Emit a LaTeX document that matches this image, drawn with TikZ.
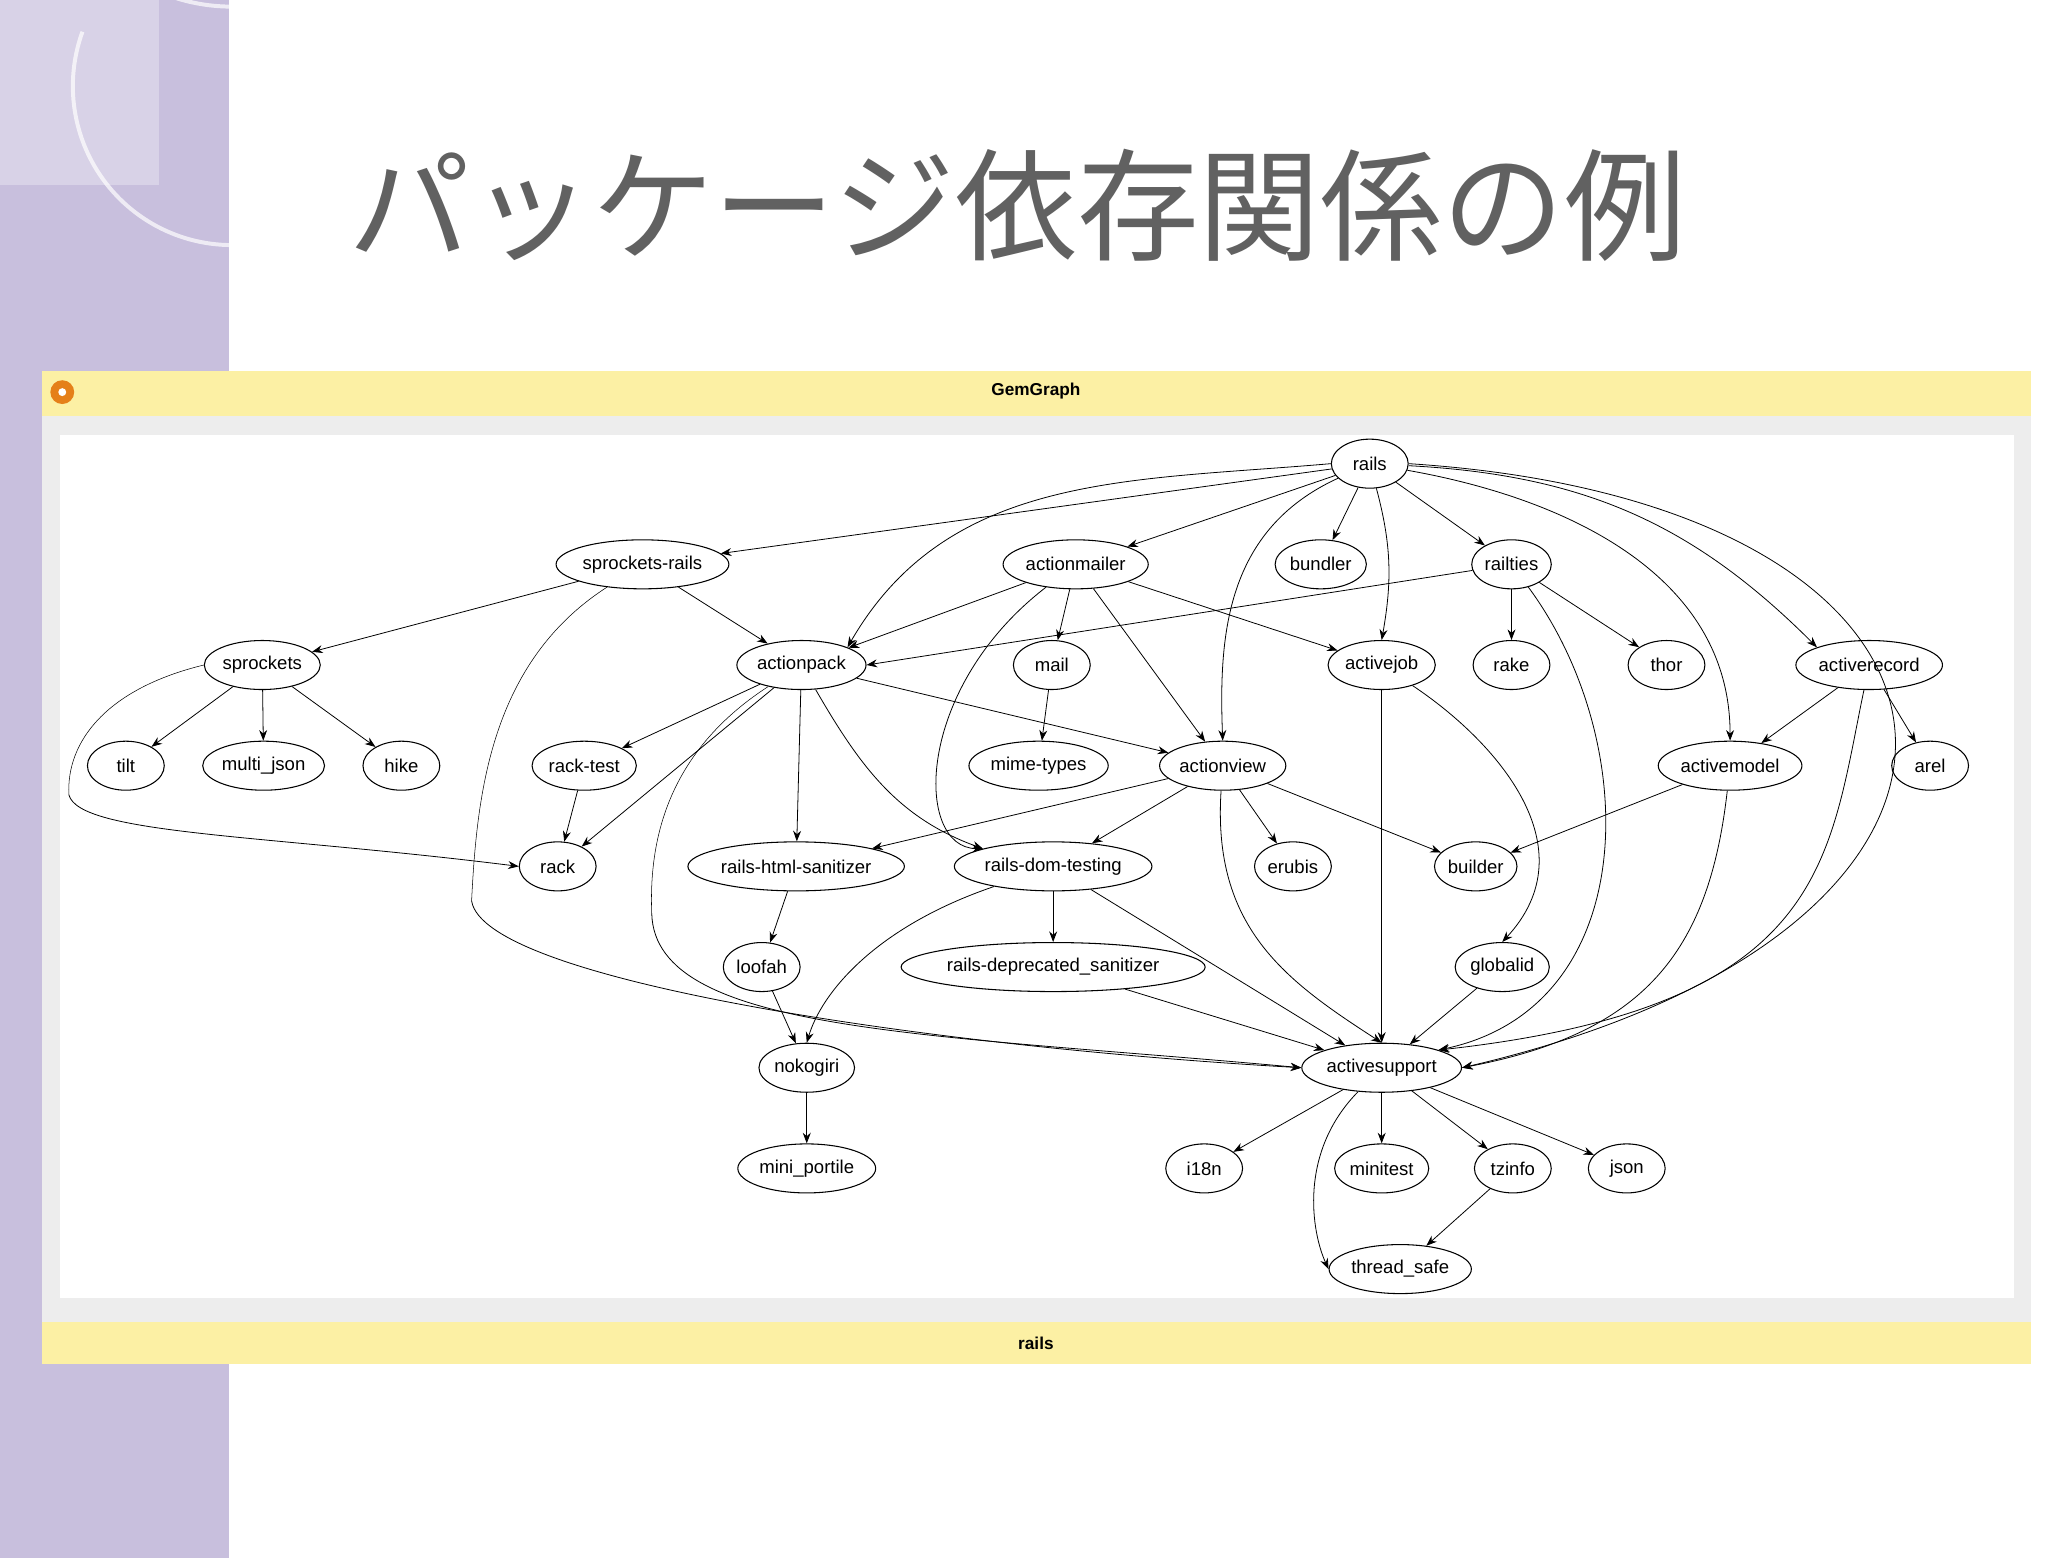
\documentclass[tikz,border=0pt]{standalone}
\usepackage{fontspec}
\setmainfont{Liberation Sans}
\newfontfamily\cjk{Noto Sans CJK JP}
\usetikzlibrary{shapes.geometric,arrows.meta}
\definecolor{side}{HTML}{C8BFDD}
\definecolor{bar}{HTML}{FCF0A4}
\begin{document}
\begin{tikzpicture}[x=1pt,y=-1pt,
 gn/.style={ellipse,draw,line width=0.8pt,inner xsep=1pt,inner ysep=0pt,minimum height=37pt,minimum width=58pt,font=\fontsize{14}{14}\selectfont},
 ed/.style={-{Stealth[length=8pt,width=6pt]},line width=0.6pt}]
\useasboundingbox (0,0) rectangle (1546,1176);
\fill[white] (0,0) rectangle (1546,1176);
\fill[side] (0,0) rectangle (173,1176);
\draw[white,line width=3pt,opacity=0.7] (175,5) arc (90:250:140);
\draw[white,line width=3pt,opacity=0.7] (175,185) arc (90:200:120);
\fill[white,opacity=0.3] (0,0) rectangle (120,140);
\node[text=black!62,font=\cjk\fontsize{92}{92}\selectfont] (title) at (768,155) {パッケージ依存関係の例};
% window
\fill[black!7] (32,280) rectangle (1533,1030);
\fill[white] (45,328) rectangle (1520,980);
\fill[bar] (32,280) rectangle (1533,314);
\fill[bar] (32,998) rectangle (1533,1030);
\fill[orange!60!brown] (47,296) circle (9);
\fill[white] (47,296) circle (3);
\node[font=\bfseries\fontsize{13}{13}\selectfont] (wt) at (782,295) {GemGraph};
\node[font=\bfseries\fontsize{13}{13}\selectfont] (wb) at (782,1014) {rails};
% nodes
\node[gn] (rails) at (1034,350) {rails};
\node[gn] (sr) at (485,426) {sprockets-rails};
\node[gn] (am) at (812,426) {actionmailer};
\node[gn] (bundler) at (997,426) {bundler};
\node[gn] (railties) at (1141,426) {railties};
\node[gn] (spr) at (198,502) {sprockets};
\node[gn] (ap) at (605,502) {actionpack};
\node[gn] (mail) at (794,502) {mail};
\node[gn] (aj) at (1043,502) {activejob};
\node[gn] (rake) at (1141,502) {rake};
\node[gn] (thor) at (1258,502) {thor};
\node[gn] (ar) at (1411,502) {activerecord};
\node[gn] (tilt) at (95,578) {tilt};
\node[gn] (mj) at (199,578) {multi\_json};
\node[gn] (hike) at (303,578) {hike};
\node[gn] (rt) at (441,578) {rack-test};
\node[gn] (mt) at (784,578) {mime-types};
\node[gn] (av) at (923,578) {actionview};
\node[gn] (amod) at (1306,578) {activemodel};
\node[gn] (arel) at (1457,578) {arel};
\node[gn] (rack) at (421,654) {rack};
\node[gn] (rhs) at (601,654) {rails-html-sanitizer};
\node[gn] (rdt) at (795,654) {rails-dom-testing};
\node[gn] (erubis) at (976,654) {erubis};
\node[gn] (builder) at (1114,654) {builder};
\node[gn] (loofah) at (575,730) {loofah};
\node[gn] (rds) at (795,730) {rails-deprecated\_sanitizer};
\node[gn] (gid) at (1134,730) {globalid};
\node[gn] (noko) at (609,806) {nokogiri};
\node[gn] (as) at (1043,806) {activesupport};
\node[gn] (mp) at (609,882) {mini\_portile};
\node[gn] (i18n) at (909,882) {i18n};
\node[gn] (mini) at (1043,882) {minitest};
\node[gn] (tz) at (1142,882) {tzinfo};
\node[gn] (json) at (1228,882) {json};
\node[gn] (ts) at (1057,958) {thread\_safe};
\coordinate (k1) at (356,680);
\coordinate (k2) at (492,690);
\coordinate (k3) at (52,600);
% edges
\draw[ed] (rails) -- (sr);
\draw[ed] (rails.west) to[out=185,in=60] (ap.north east);
\draw[ed] (rails) -- (am);
\draw[ed] (rails) -- (bundler);
\draw[ed] (rails) -- (railties);
\draw[ed] (rails) to[out=-75,in=80] (aj.north);
\draw[ed] (rails) .. controls (925,400) and (920,480) .. (av.north);
\draw[ed] (rails) to[out=-10,in=90] (amod.north);
\draw[ed] (rails) to[out=-3,in=135] (ar.north west);
\draw[ed] (rails.east) .. controls (1530,380) and (1560,700) .. (as.east);
\draw[ed] (sr) -- (spr);
\draw[ed] (sr) -- (ap);
\draw (sr) .. controls (370,500) and (360,600) .. (k1);
\draw[ed] (k1) .. controls (365,740) and (700,790) .. (as.west);
\draw[ed] (am) -- (ap);
\draw[ed] (am) -- (mail);
\draw[ed] (am) -- (av);
\draw[ed] (am) -- (aj);
\draw[ed] (am) .. controls (690,520) and (690,640) .. (rdt.north west);
\draw[ed] (railties) -- (ap.east);
\draw[ed] (railties) -- (rake);
\draw[ed] (railties) -- (thor);
\draw[ed] (railties) .. controls (1240,560) and (1240,760) .. (as.north east);
\draw[ed] (spr) -- (tilt);
\draw[ed] (spr) -- (mj);
\draw[ed] (spr) -- (hike);
\draw (spr.west) .. controls (80,520) and (50,560) .. (k3);
\draw[ed] (k3) .. controls (60,630) and (200,630) .. (rack.west);
\draw[ed] (ap) -- (rt);
\draw[ed] (ap) -- (rack);
\draw[ed] (ap) -- (rhs);
\draw[ed] (ap) to[out=-60,in=160] (rdt.north west);
\draw[ed] (ap) -- (av);
\draw (ap) .. controls (500,570) and (490,640) .. (k2);
\draw[ed] (k2) .. controls (495,780) and (700,780) .. (as.west);
\draw[ed] (mail) -- (mt);
\draw[ed] (aj) -- (as);
\draw[ed] (aj) .. controls (1130,560) and (1200,640) .. (gid.north);
\draw[ed] (ar) -- (amod);
\draw[ed] (ar) -- (arel);
\draw[ed] (ar) .. controls (1380,650) and (1380,760) .. (as.north east);
\draw[ed] (rt) -- (rack);
\draw[ed] (av) -- (rhs);
\draw[ed] (av) -- (rdt);
\draw[ed] (av) -- (erubis);
\draw[ed] (av) -- (builder);
\draw[ed] (av) .. controls (915,700) and (970,740) .. (as.north);
\draw[ed] (amod) -- (builder);
\draw[ed] (amod) .. controls (1290,720) and (1240,780) .. (as.east);
\draw[ed] (rhs) -- (loofah);
\draw[ed] (rdt) -- (rds);
\draw[ed] (rdt) .. controls (660,700) and (620,750) .. (noko.north);
\draw[ed] (rdt) -- (as);
\draw[ed] (loofah) -- (noko);
\draw[ed] (rds) -- (as);
\draw[ed] (gid) -- (as);
\draw[ed] (noko) -- (mp);
\draw[ed] (as) -- (i18n);
\draw[ed] (as) -- (mini);
\draw[ed] (as) -- (tz);
\draw[ed] (as) -- (json);
\draw[ed] (as) .. controls (980,870) and (990,930) .. (ts.west);
\draw[ed] (tz) -- (ts);
\end{tikzpicture}
\end{document}
